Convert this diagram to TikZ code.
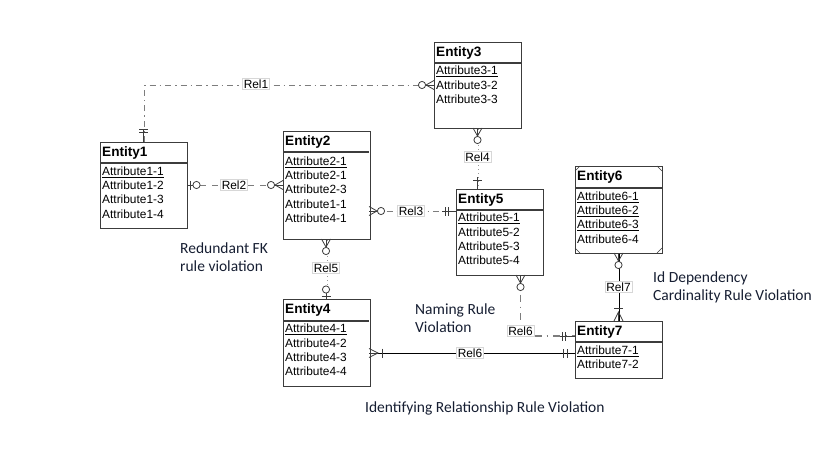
\documentclass[tikz,border=0pt]{standalone}
\usepackage{fontspec}
\setmainfont{Liberation Sans}
\newfontfamily\annfont{Carlito}
\usetikzlibrary{backgrounds}
\definecolor{boxline}{RGB}{60,60,60}
\definecolor{annot}{RGB}{22,30,50}
\definecolor{relgray}{RGB}{125,125,125}
\definecolor{lblborder}{RGB}{215,215,215}
\newcommand\zmk[4]{\begin{scope}[shift={(#1,#2)},rotate=#3]#4\end{scope}}
\newcommand\cfoot[1][8]{\draw[mk] (0,-4.5)--(#1,0)--(0,4.5); \draw[mk] (0,0)--(#1,0);}
\newcommand\ocirc[1]{\draw[mk,fill=white] (#1,0) circle (3.6);}
\newcommand\obar[1]{\draw[mk] (#1,-4.5)--(#1,4.5);}
\begin{document}
\begin{tikzpicture}[x=1pt,y=-1pt,
  ebox/.style={draw=boxline, line width=1.1pt, fill=white, anchor=north west, minimum width=87, inner sep=0},
  hline/.style={draw=boxline, line width=1.1pt},
  etitle/.style={anchor=west, inner sep=0, font=\bfseries\fontsize{13.6}{15}\selectfont},
  eattr/.style={anchor=north west, inner sep=0, align=left, font=\fontsize{11.9}{14.3}\selectfont},
  mk/.style={draw=boxline, line width=0.8pt},
  rlabel/.style={draw=lblborder, fill=white, inner sep=1.2, font=\fontsize{11.9}{13}\selectfont},
  ann/.style={anchor=west, inner sep=0, align=left, text=annot, font=\annfont\fontsize{15.5}{17.8}\selectfont},
  dd/.style={draw=relgray, line width=0.9pt, dash pattern=on 6pt off 4pt on 1.5pt off 4pt},
  dotl/.style={draw=relgray!80, line width=0.9pt, dash pattern=on 1pt off 3pt},
  solidl/.style={draw=black, line width=1pt},
]
\useasboundingbox (0,0) rectangle (819,460);

% ---------- entities ----------
% Entity1
\node[ebox, minimum height=86] (e1) at (100,142) {};
\draw[hline] (100,163) -- (187,163);
\node[etitle] at (102,152.5) {Entity1};
\node[eattr] at (102,166.5) {\underline{Attribute1-1}\\Attribute1-2\\Attribute1-3\\Attribute1-4};
% Entity2
\node[ebox, minimum height=108] (e2) at (283,131) {};
\draw[hline] (283,152) -- (369,152);
\node[etitle] at (285,141.5) {Entity2};
\node[eattr] at (285,156.5) {\underline{Attribute2-1}\\Attribute2-1\\Attribute2-3\\Attribute1-1\\Attribute4-1};
% Entity3
\node[ebox, minimum height=86] (e3) at (434,42) {};
\draw[hline] (434,63) -- (521,63);
\node[etitle] at (436,52.5) {Entity3};
\node[eattr] at (436,66) {\underline{Attribute3-1}\\Attribute3-2\\Attribute3-3};
% Entity4
\node[ebox, minimum height=87] (e4) at (283,299) {};
\draw[hline] (283,321) -- (369,321);
\node[etitle] at (285,310) {Entity4};
\node[eattr] at (285,324) {\underline{Attribute4-1}\\Attribute4-2\\Attribute4-3\\Attribute4-4};
% Entity5
\node[ebox, minimum height=86] (e5) at (456,189) {};
\draw[hline] (456,210) -- (543,210);
\node[etitle] at (458,199.5) {Entity5};
\node[eattr] at (458,213) {\underline{Attribute5-1}\\Attribute5-2\\Attribute5-3\\Attribute5-4};
% Entity6
\node[ebox, minimum height=87] (e6) at (575,166) {};
\draw[hline] (575,188) -- (662,188);
\node[etitle] at (577,177) {Entity6};
\node[eattr] at (577,191.5) {\underline{Attribute6-1}\\\underline{Attribute6-2}\\\underline{Attribute6-3}\\Attribute6-4};
\draw[boxline, line width=0.6pt] (575,171) -- (580,166) (657,166) -- (662,171)
      (575,248) -- (580,253) (657,253) -- (662,248);
% Entity7
\node[ebox, minimum height=57] (e7) at (575,321) {};
\draw[hline] (575,342) -- (662,342);
\node[etitle] at (577,331.5) {Entity7};
\node[eattr] at (577,345.5) {\underline{Attribute7-1}\\Attribute7-2};

% ---------- connectors ----------
\begin{scope}[on background layer]
% Rel1
\draw[dd] (e1.north) |- (e3.west);
% Rel2
\draw[relgray, line width=0.9pt, dash pattern=on 6pt off 6pt] (e1.east) -- (e2.west);
% Rel3
\draw[dd] (e2.east |- 0,211) -- (e5.west |- 0,211);
% Rel4
\draw[dotl] (e3.south) -- (e3.south |- e5.north);
% Rel5
\draw[dotl] (e2.south) -- (e4.north);
% Rel6 dashed
\coordinate (r6a) at ([xshift=20.5]e5.south);
\draw[relgray, line width=1.6pt, dash pattern=on 7pt off 5pt on 1.5pt off 5pt] (r6a) |- (e7.west |- 0,336);
% Rel6 solid
\draw[solidl] (e4.east |- 0,353) -- (e7.west |- 0,353);
% Rel7
\draw[solidl] (e6.south) -- (e7.north);
\end{scope}

% ---------- end markers ----------
% Rel1
\zmk{143.5}{142}{90}{\draw[mk] (0,0)--(13,0); \obar{10} \obar{13}}
\zmk{434}{85}{180}{\cfoot \ocirc{12}}
% Rel2
\zmk{187}{185}{0}{\draw[mk] (0,0)--(6,0); \obar{3} \ocirc{9.5}}
\zmk{283}{185}{180}{\cfoot \ocirc{12}}
% Rel3
\zmk{369}{211}{0}{\cfoot \ocirc{12}}
\zmk{456}{211}{180}{\draw[mk] (0,0)--(14,0); \obar{8} \obar{11}}
% Rel4
\zmk{477.5}{128}{270}{\cfoot \ocirc{12}}
\zmk{477.5}{189}{90}{\draw[mk] (0,0)--(12,0); \obar{9}}
% Rel5
\zmk{326}{239}{270}{\cfoot \ocirc{12}}
\zmk{326}{299}{90}{\draw[mk] (0,0)--(6,0); \obar{3} \ocirc{9.5}}
% Rel6 dashed
\zmk{520.5}{275}{270}{\cfoot \ocirc{12}}
\zmk{575}{336}{180}{\draw[mk] (0,0)--(15,0); \obar{10} \obar{13}}
% Rel6 solid
\zmk{369}{353}{0}{\cfoot[9] \obar{13}}
\zmk{575}{353}{180}{\obar{8} \obar{12}}
% Rel7
\zmk{618.5}{253}{270}{\cfoot \ocirc{12}}
\zmk{618.5}{321}{90}{\cfoot[9] \obar{13}}

% ---------- relation labels ----------
\node[rlabel] (l1) at (256,84) {Rel1};
\node[rlabel] (l2) at (234,185) {Rel2};
\node[rlabel] (l3) at (411,211) {Rel3};
\node[rlabel] (l4) at (477.5,157) {Rel4};
\node[rlabel] (l5) at (326,268) {Rel5};
\node[rlabel] (l6a) at (520.5,331) {Rel6};
\node[rlabel] (l6b) at (470,353) {Rel6};
\node[rlabel] (l7) at (618.5,287) {Rel7};

% ---------- annotations ----------
\node[ann] (a1) at (180,257.5) {Redundant FK\\rule violation};
\node[ann] (a2) at (415,318) {Naming Rule\\Violation};
\node[ann] (a3) at (653,287) {Id Dependency\\Cardinality Rule Violation};
\node[ann] (a4) at (365,408) {Identifying Relationship Rule Violation};
\end{tikzpicture}
\end{document}
